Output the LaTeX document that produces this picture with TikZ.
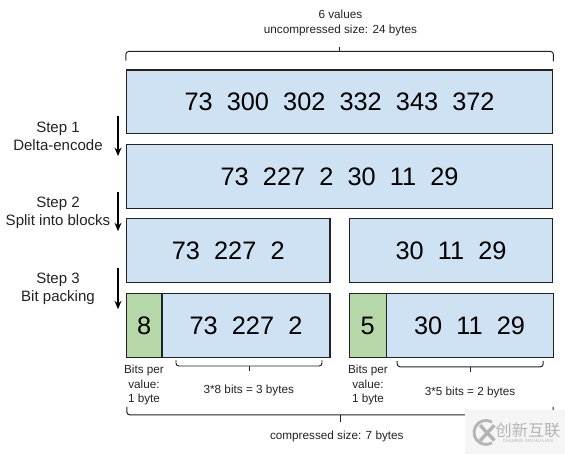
\documentclass[tikz,border=0pt]{standalone}
\usepackage{fontspec}
\setmainfont{Liberation Sans}
\newfontfamily\cjkfont{Noto Sans CJK SC}
\usetikzlibrary{arrows.meta,positioning,calc}
\definecolor{blockblue}{HTML}{CFE2F3}
\definecolor{blockgreen}{HTML}{B6D7A8}
\definecolor{blockink}{HTML}{222222}
\definecolor{markgray}{HTML}{B4B4B4}
\tikzset{
  datablock/.style={draw=blockink, fill=blockblue, line width=0.8pt, font=\fontsize{18}{21}\selectfont, minimum height=1.5875cm, inner sep=0pt},
  widthblock/.style={datablock, fill=blockgreen},
  steplabel/.style={font=\fontsize{10.7}{13.2}\selectfont, color=blockink, align=center},
  notelabel/.style={font=\fontsize{8.35}{10}\selectfont, color=blockink, align=center},
  stepline/.style={-{Stealth[length=6pt,width=5pt]}, black, line width=0.8pt},
  bracket/.style={draw=blockink, line width=0.7pt, rounded corners=2pt}
}
\begin{document}
\begin{tikzpicture}
  \useasboundingbox (0,0) rectangle (14.125,11.35);
  % full rows
  \node[datablock, minimum width=10.66cm] (rowa) at (8.49,8.806) {73\hspace{0.56em}300\hspace{0.56em}302\hspace{0.56em}332\hspace{0.56em}343\hspace{0.56em}372};
  \node[datablock, minimum width=10.66cm] (rowb) at (8.49,6.94) {73\hspace{0.56em}227\hspace{0.56em}2\hspace{0.56em}30\hspace{0.56em}11\hspace{0.56em}29};
  % split blocks
  \node[datablock, minimum width=5.09cm] (leftc) at (5.706,5.09) {73\hspace{0.56em}227\hspace{0.56em}2};
  \node[datablock, minimum width=5.09cm] (rightc) at (11.275,5.09) {30\hspace{0.56em}11\hspace{0.56em}29};
  % packed blocks
  \node[widthblock, minimum width=0.8875cm] (leftw) at (3.606,3.21) {8};
  \node[datablock, minimum width=4.2cm] (leftd) at (6.15,3.21) {73\hspace{0.56em}227\hspace{0.56em}2};
  \node[widthblock, minimum width=0.925cm] (rightw) at (9.19,3.21) {5};
  \node[datablock, minimum width=4.175cm] (rightd) at (11.74,3.21) {30\hspace{0.56em}11\hspace{0.56em}29};
  % step labels
  \node[steplabel] (stepa) at (1.45,7.94) {Step 1\\Delta-encode};
  \node[steplabel] (stepb) at (1.45,6.025) {Step 2\\Split into blocks};
  \node[steplabel] (stepc) at (1.45,4.125) {Step 3\\Bit packing};
  \coordinate (a1) at (2.95,8.45);
  \coordinate (a2) at (2.95,7.45);
  \coordinate (b1) at (2.95,6.55);
  \coordinate (b2) at (2.95,5.57);
  \coordinate (c1) at (2.95,4.65);
  \coordinate (c2) at (2.95,3.62);
  \draw[stepline] (a1) -- (a2);
  \draw[stepline] (b1) -- (b2);
  \draw[stepline] (c1) -- (c2);
  % top bracket
  \node[notelabel] (toplabel) at (8.51,10.775) {6 values\\uncompressed size: 24 bytes};
  \coordinate (topmid) at (8.49,10.18);
  \draw[bracket] ($(rowa.north west)+(0,0.22)$) |- ($(rowa.north east)+(0,0.45)$) -- ($(rowa.north east)+(0,0.2)$);
  \draw[bracket] ($(rowa.north)+(0,0.45)$) -- (topmid);
  % small brackets
  \node[notelabel] (leftnote) at (3.6,1.725) {Bits per\\value:\\1 byte};
  \node[notelabel] (rightnote) at (9.2,1.725) {Bits per\\value:\\1 byte};
  \node[notelabel] (leftsize) at (6.22,1.58) {3*8 bits = 3 bytes};
  \node[notelabel] (rightsize) at (11.75,1.55) {3*5 bits = 2 bytes};
  \coordinate (lb1) at (4.4,2.35);
  \coordinate (lb2) at (8.05,2.35);
  \coordinate (rb1) at (9.93,2.33);
  \coordinate (rb2) at (13.58,2.33);
  \draw[bracket] (lb1) -- ++(0,-0.15) -| (lb2);
  \draw[bracket] (6.225,2.2) -- (6.225,2.07);
  \draw[bracket] (rb1) -- ++(0,-0.15) -| (rb2);
  \draw[bracket] (11.755,2.18) -- (11.755,2.05);
  % bottom bracket
  \node[notelabel] (bottomlabel) at (8.42,0.43) {compressed size: 7 bytes};
  \coordinate (bb1) at (3.17,1.18);
  \coordinate (bb2) at (13.83,1.18);
  \draw[bracket] (bb1) -- ++(0,-0.2) -| (bb2);
  \draw[bracket] (8.5,0.98) -- (8.5,0.8);
  % watermark
  \fill[white!96!black] (11.625,0) rectangle (14.125,1.1);
  \node[font=\cjkfont\fontsize{11.5}{12}\selectfont, color=markgray, inner sep=0pt] (marktext) at (13.2,0.58) {创新互联};
  \node[font=\fontsize{3.4}{4}\selectfont, color=markgray, inner sep=0pt] (markline) at (13.2,0.32) {CHUANG XIN HU LIAN};
  \draw[markgray, line width=2pt] (12.3,0.8) arc (60:300:0.3);
  \draw[markgray, line width=2.4pt] (12.0,0.72) -- (12.36,0.34) (12.0,0.33) -- (12.36,0.72);
\end{tikzpicture}
\end{document}
